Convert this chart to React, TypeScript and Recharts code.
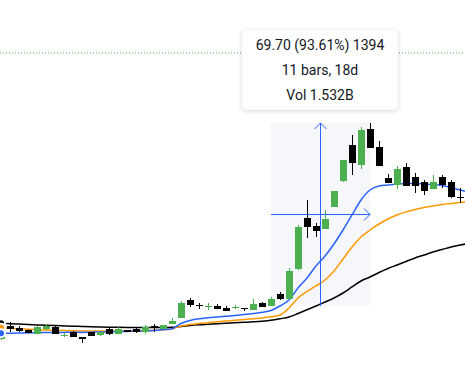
import { ComposedChart, Bar, Line, XAxis, YAxis, ReferenceArea, ReferenceLine } from 'recharts';

const W = 465;
const H = 377;
const PRICE_MIN = 47.5;
const PRICE_MAX = 190.7;
const UP = '#4caf50';
const DOWN = '#000000';
const BLUE = '#2962ff';

// candles 0..51
const opens = [
  61.93, 66.87, 66.11, 65.35, 63.83, 65.73, 66.49, 63.26, 64.59, 62.69,
  64.59, 63.45, 65.73, 63.83, 65.35, 65.73, 64.59, 66.87, 65.73, 67.63,
  69.91, 76.75, 74.85, 74.28, 74.47, 73.71, 73.52, 73.71, 72.95, 75.61,
  74.47, 79.03, 77.13, 88.52, 107.89, 104.86, 103.72, 112.07, 121.95, 135.62,
  128.03, 141.7, 134.86, 123.09, 120.43, 127.27, 123.47, 121.57, 118.91, 123.47,
  121.57, 116.06,
];
const highs = [
  66.49, 68.39, 66.87, 65.5, 66.87, 67.63, 66.87, 64.21, 64.97, 62.69,
  64.59, 64.59, 66.11, 66.49, 65.35, 66.49, 67.25, 67.63, 67.25, 69.91,
  76.37, 77.51, 75.61, 75.61, 75.23, 74.47, 74.85, 73.71, 77.13, 75.99,
  77.89, 79.79, 88.9, 105.24, 114.73, 106.0, 110.93, 118.15, 129.93, 139.42,
  142.46, 143.98, 137.14, 124.61, 127.65, 128.79, 124.99, 122.33, 124.23, 124.23,
  122.33, 119.29,
];
const lows = [
  61.55, 64.59, 64.59, 64.1, 63.83, 65.35, 63.83, 62.69, 62.69, 60.41,
  63.07, 63.07, 63.45, 63.83, 64.59, 64.21, 63.83, 64.59, 65.73, 67.63,
  69.91, 74.09, 73.33, 72.95, 73.33, 72.57, 73.33, 72.57, 72.95, 74.09,
  74.47, 76.75, 77.13, 88.14, 100.3, 100.68, 103.72, 112.07, 121.57, 124.23,
  126.51, 134.48, 127.65, 121.19, 118.91, 120.05, 117.39, 116.63, 118.91, 119.29,
  115.49, 113.59,
];
const closes = [
  66.11, 65.73, 64.97, 64.21, 66.49, 66.87, 63.83, 63.45, 62.69, 61.93,
  63.07, 64.59, 63.83, 65.73, 64.59, 64.59, 66.49, 66.49, 67.25, 68.77,
  75.61, 74.85, 74.47, 74.47, 73.33, 72.57, 73.9, 73.33, 75.23, 74.09,
  77.13, 77.13, 87.76, 104.48, 104.48, 102.96, 107.52, 118.15, 129.93, 128.79,
  141.32, 134.48, 127.65, 121.19, 126.51, 120.05, 120.05, 118.15, 121.57, 120.43,
  115.87, 115.68,
];

// moving averages, index -1..52
const maFast = [
  64.02, 64.1, 64.14, 64.21, 64.29, 64.33, 64.4, 64.4, 64.44, 64.48,
  64.44, 64.52, 64.59, 64.67, 64.74, 64.82, 64.9, 65.05, 65.2, 65.43,
  65.81, 67.82, 68.96, 69.61, 69.99, 70.29, 70.59, 70.86, 71.2, 71.62,
  72.07, 72.76, 74.47, 76.75, 81.31, 85.11, 89.67, 93.46, 98.02, 103.34,
  109.04, 114.73, 118.53, 120.05, 120.43, 120.81, 121.0, 121.0, 120.81, 120.62,
  120.24, 119.48, 118.53, 117.77,
];
const maMid = [
  66.38, 66.23, 66.04, 65.85, 65.66, 65.5, 65.35, 65.24, 65.12, 65.05,
  64.97, 64.93, 64.93, 64.97, 64.97, 65.01, 65.05, 65.12, 65.24, 65.43,
  65.73, 66.87, 67.44, 67.82, 68.13, 68.47, 68.77, 69.04, 69.3, 69.61,
  69.91, 70.37, 71.05, 73.71, 77.51, 79.98, 82.07, 84.35, 87.77, 92.33,
  96.88, 100.68, 103.34, 105.62, 107.52, 109.04, 110.17, 111.12, 111.88, 112.45,
  113.02, 113.4, 113.78, 114.05,
];
const maSlow = [
  68.01, 67.9, 67.74, 67.59, 67.44, 67.29, 67.14, 67.02, 66.91, 66.8,
  66.68, 66.57, 66.49, 66.42, 66.38, 66.34, 66.3, 66.3, 66.3, 66.3,
  66.38, 66.68, 67.06, 67.33, 67.52, 67.71, 67.9, 68.09, 68.28, 68.47,
  68.7, 69.04, 69.61, 70.29, 71.62, 73.02, 74.47, 75.99, 77.51, 79.41,
  81.69, 83.97, 85.49, 87.19, 88.72, 90.05, 91.38, 92.71, 93.84, 94.98,
  95.93, 96.88, 97.64, 98.21,
];

const lastPriceLine = 170.57;
const measureFrom = 30;
const measureTo = 41;
const measureLabels = ['69.70 (93.61%) 1394', '11 bars, 18d', 'Vol 1.532B'];

const data = maFast.map((_, k) => {
  const i = k - 1;
  const has = i >= 0 && i < opens.length;
  return {
    i,
    o: has ? opens[i] : null,
    h: has ? highs[i] : null,
    l: has ? lows[i] : null,
    c: has ? closes[i] : null,
    fast: maFast[k],
    mid: maMid[k],
    slow: maSlow[k],
  };
});

const ppu = H / (PRICE_MAX - PRICE_MIN);

const Candle = (props: any) => {
  const { x, y, width, height, payload } = props;
  if (payload == null || payload.o == null) return null;
  const { o, h, c } = payload;
  const cx = Math.floor(x + width / 2);
  const top = Math.min(y, y + height);
  const color = c >= o ? UP : DOWN;
  const bodyTop = top + (h - Math.max(o, c)) * ppu;
  const bodyH = Math.max(1, Math.abs(o - c) * ppu);
  return (
    <g>
      <rect x={cx} y={top} width={1} height={Math.abs(height)} fill={color} />
      <rect x={cx - 3} y={Math.round(bodyTop)} width={7} height={Math.max(1, Math.round(bodyH))} fill={color} />
    </g>
  );
};

const Arrow = (props: any) => {
  const { x1, y1, x2, y2 } = props;
  const len = Math.hypot(x2 - x1, y2 - y1) || 1;
  const dx = (x2 - x1) / len;
  const dy = (y2 - y1) / len;
  const nx = -dy;
  const ny = dx;
  const L = 6;
  const Wd = 6;
  const pts = `${x2 - dx * L + nx * Wd},${y2 - dy * L + ny * Wd} ${x2},${y2} ${x2 - dx * L - nx * Wd},${y2 - dy * L - ny * Wd}`;
  return (
    <g>
      <line x1={x1} y1={y1} x2={x2} y2={y2} stroke={BLUE} strokeWidth={1} />
      <polyline points={pts} fill="none" stroke={BLUE} strokeWidth={1} />
    </g>
  );
};

export default function App() {
  const lowStart = lows[measureFrom];
  const highEnd = highs[measureTo];
  const midPrice = (lowStart + highEnd) / 2;
  const midIdx = (measureFrom + measureTo) / 2;
  return (
    <div style={{ position: 'relative', width: W, height: H, background: '#fff' }}>
      <style>{'body{margin:0}'}</style>
      <ComposedChart width={W} height={H} data={data} margin={{ top: 0, right: 0, bottom: 0, left: 0 }}>
        <XAxis dataKey="i" type="number" domain={[-1 / 9, 464 / 9]} allowDataOverflow hide />
        <YAxis type="number" domain={[PRICE_MIN, PRICE_MAX]} allowDataOverflow hide />
        <ReferenceArea
          x1={measureFrom}
          x2={measureTo}
          y1={lowStart}
          y2={highEnd}
          fill="#f5f7fa"
          fillOpacity={1}
          stroke="none"
          zIndex={50}
        />
        <ReferenceLine
          y={lastPriceLine}
          stroke={UP}
          strokeDasharray="1 2"
          strokeWidth={1}
        />
        <Line type="monotone" dataKey="slow" stroke="#000000" strokeWidth={1.5} dot={false} isAnimationActive={false} zIndex={400} />
        <Line type="monotone" dataKey="mid" stroke="#ff9800" strokeWidth={1.5} dot={false} isAnimationActive={false} zIndex={401} />
        <Line type="monotone" dataKey="fast" stroke={BLUE} strokeWidth={1.5} dot={false} isAnimationActive={false} zIndex={402} />
        <Bar
          dataKey={(d: any) => (d.o == null ? null : [d.l, d.h])}
          barSize={7}
          shape={Candle}
          isAnimationActive={false}
          zIndex={500}
        />
        <ReferenceLine
          segment={[{ x: midIdx, y: lowStart }, { x: midIdx, y: highEnd }]}
          shape={Arrow}
          zIndex={600}
        />
        <ReferenceLine
          segment={[{ x: measureFrom, y: midPrice }, { x: measureTo, y: midPrice }]}
          shape={Arrow}
          zIndex={600}
        />
      </ComposedChart>
      <div
        style={{
          position: 'absolute',
          left: 242,
          top: 30,
          width: 156,
          height: 80,
          boxSizing: 'border-box',
          paddingTop: 3,
          background: '#fff',
          borderRadius: 5,
          boxShadow: '0 1px 5px rgba(0,0,0,0.18)',
          textAlign: 'center',
          fontFamily: 'Roboto, sans-serif',
          fontSize: 14,
          lineHeight: '25px',
          color: '#131722',
        }}
      >
        {measureLabels.map((t) => (
          <div key={t}>{t}</div>
        ))}
      </div>
    </div>
  );
}
